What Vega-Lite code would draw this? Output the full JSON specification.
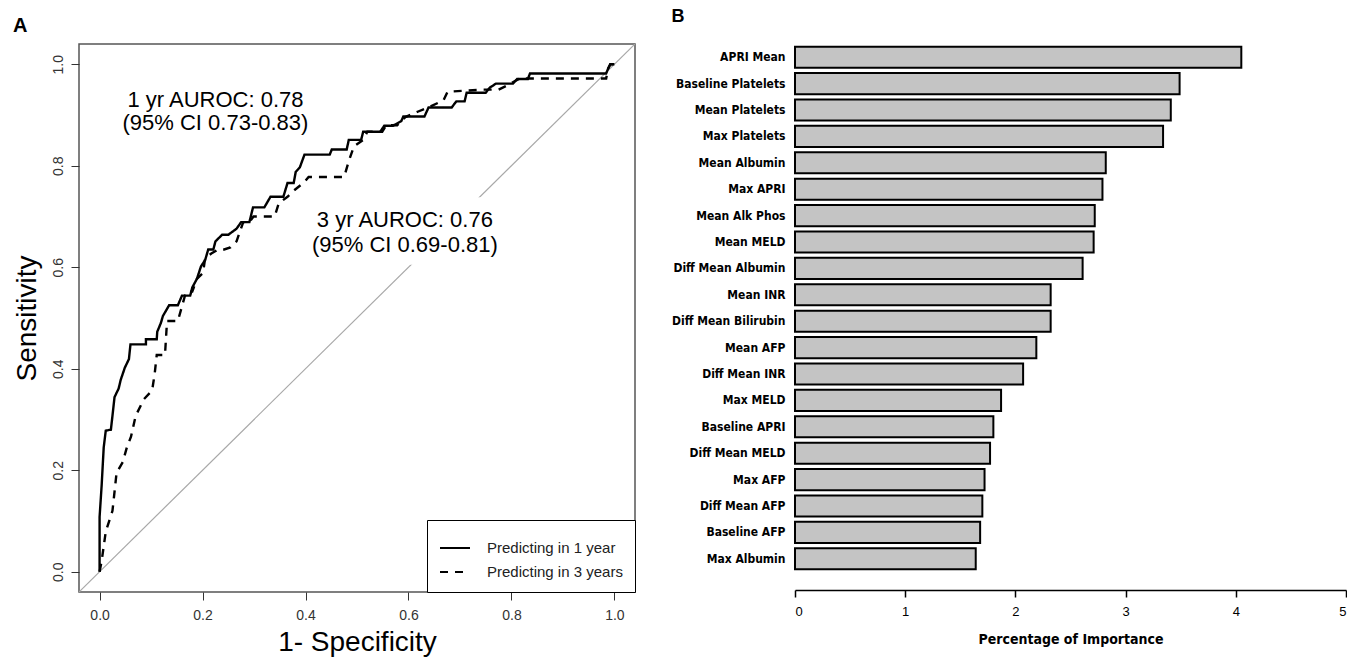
{
  "$schema": "https://vega.github.io/schema/vega-lite/v6.json",
  "background": "white",
  "padding": {"left": 12, "top": 8, "right": 0, "bottom": 0},
  "config": {"font": "Liberation Sans", "view": {"stroke": null}},
  "spacing": 34,
  "resolve": {"legend": {"strokeDash": "independent"}, "scale": {"x": "independent", "y": "independent"}},
  "datasets": {
    "roc1": [
      {"fpr":0,"sens":0},{"fpr":0,"sens":0.108},{"fpr":0.004,"sens":0.170},{"fpr":0.008,"sens":0.245},{"fpr":0.012,"sens":0.278},{"fpr":0.022,"sens":0.280},{"fpr":0.029,"sens":0.344},{"fpr":0.037,"sens":0.361},{"fpr":0.041,"sens":0.378},{"fpr":0.049,"sens":0.402},{"fpr":0.057,"sens":0.419},{"fpr":0.060,"sens":0.448},{"fpr":0.090,"sens":0.448},{"fpr":0.090,"sens":0.458},{"fpr":0.111,"sens":0.458},{"fpr":0.112,"sens":0.473},{"fpr":0.119,"sens":0.490},{"fpr":0.123,"sens":0.504},{"fpr":0.135,"sens":0.525},{"fpr":0.152,"sens":0.525},{"fpr":0.160,"sens":0.544},{"fpr":0.176,"sens":0.544},{"fpr":0.180,"sens":0.560},{"fpr":0.189,"sens":0.577},{"fpr":0.197,"sens":0.602},{"fpr":0.205,"sens":0.614},{"fpr":0.211,"sens":0.635},{"fpr":0.221,"sens":0.635},{"fpr":0.225,"sens":0.651},{"fpr":0.238,"sens":0.664},{"fpr":0.250,"sens":0.664},{"fpr":0.266,"sens":0.676},{"fpr":0.275,"sens":0.689},{"fpr":0.291,"sens":0.689},{"fpr":0.298,"sens":0.718},{"fpr":0.320,"sens":0.718},{"fpr":0.332,"sens":0.739},{"fpr":0.357,"sens":0.739},{"fpr":0.365,"sens":0.766},{"fpr":0.377,"sens":0.766},{"fpr":0.381,"sens":0.788},{"fpr":0.389,"sens":0.797},{"fpr":0.398,"sens":0.822},{"fpr":0.447,"sens":0.822},{"fpr":0.451,"sens":0.832},{"fpr":0.480,"sens":0.832},{"fpr":0.484,"sens":0.851},{"fpr":0.508,"sens":0.851},{"fpr":0.512,"sens":0.867},{"fpr":0.545,"sens":0.867},{"fpr":0.553,"sens":0.879},{"fpr":0.570,"sens":0.879},{"fpr":0.586,"sens":0.888},{"fpr":0.590,"sens":0.897},{"fpr":0.631,"sens":0.897},{"fpr":0.639,"sens":0.915},{"fpr":0.684,"sens":0.915},{"fpr":0.693,"sens":0.927},{"fpr":0.709,"sens":0.927},{"fpr":0.713,"sens":0.944},{"fpr":0.750,"sens":0.944},{"fpr":0.758,"sens":0.954},{"fpr":0.770,"sens":0.962},{"fpr":0.803,"sens":0.962},{"fpr":0.811,"sens":0.971},{"fpr":0.832,"sens":0.971},{"fpr":0.836,"sens":0.982},{"fpr":0.984,"sens":0.982},{"fpr":0.988,"sens":0.992},{"fpr":0.992,"sens":1.0},{"fpr":1.0,"sens":1.0}
    ],
    "roc3": [
      {"fpr":0,"sens":0},{"fpr":0.004,"sens":0.021},{"fpr":0.012,"sens":0.079},{"fpr":0.025,"sens":0.120},{"fpr":0.033,"sens":0.195},{"fpr":0.045,"sens":0.216},{"fpr":0.053,"sens":0.245},{"fpr":0.061,"sens":0.266},{"fpr":0.070,"sens":0.307},{"fpr":0.086,"sens":0.340},{"fpr":0.102,"sens":0.357},{"fpr":0.107,"sens":0.390},{"fpr":0.111,"sens":0.427},{"fpr":0.127,"sens":0.427},{"fpr":0.131,"sens":0.494},{"fpr":0.152,"sens":0.494},{"fpr":0.168,"sens":0.552},{"fpr":0.180,"sens":0.552},{"fpr":0.189,"sens":0.577},{"fpr":0.201,"sens":0.589},{"fpr":0.205,"sens":0.618},{"fpr":0.217,"sens":0.627},{"fpr":0.230,"sens":0.635},{"fpr":0.242,"sens":0.635},{"fpr":0.254,"sens":0.639},{"fpr":0.266,"sens":0.651},{"fpr":0.279,"sens":0.689},{"fpr":0.291,"sens":0.689},{"fpr":0.299,"sens":0.700},{"fpr":0.340,"sens":0.700},{"fpr":0.348,"sens":0.726},{"fpr":0.365,"sens":0.739},{"fpr":0.377,"sens":0.751},{"fpr":0.398,"sens":0.768},{"fpr":0.406,"sens":0.778},{"fpr":0.475,"sens":0.778},{"fpr":0.484,"sens":0.809},{"fpr":0.494,"sens":0.838},{"fpr":0.512,"sens":0.851},{"fpr":0.520,"sens":0.867},{"fpr":0.549,"sens":0.867},{"fpr":0.557,"sens":0.880},{"fpr":0.578,"sens":0.880},{"fpr":0.586,"sens":0.888},{"fpr":0.594,"sens":0.896},{"fpr":0.619,"sens":0.907},{"fpr":0.643,"sens":0.917},{"fpr":0.668,"sens":0.929},{"fpr":0.676,"sens":0.946},{"fpr":0.742,"sens":0.950},{"fpr":0.775,"sens":0.950},{"fpr":0.791,"sens":0.958},{"fpr":0.816,"sens":0.972},{"fpr":0.984,"sens":0.972},{"fpr":0.988,"sens":0.992},{"fpr":0.992,"sens":1.0},{"fpr":1.0,"sens":1.0}
    ],
    "diag": [{"fpr":-0.04,"sens":-0.04},{"fpr":1.04,"sens":1.04}],
    "notes": [
      {"fpr":0.225,"sens":0.929,"label":"1 yr AUROC: 0.78"},
      {"fpr":0.225,"sens":0.884,"label":"(95% CI 0.73-0.83)"},
      {"fpr":0.593,"sens":0.693,"label":"3 yr AUROC: 0.76"},
      {"fpr":0.593,"sens":0.643,"label":"(95% CI 0.69-0.81)"}
    ],
    "boxes": [{"x":0.372,"x2":0.815,"y":0.605,"y2":0.738}],
    "importance": [
      {"feature":"APRI Mean","importance":4.05},
      {"feature":"Baseline Platelets","importance":3.49},
      {"feature":"Mean Platelets","importance":3.41},
      {"feature":"Max Platelets","importance":3.34},
      {"feature":"Mean Albumin","importance":2.82},
      {"feature":"Max APRI","importance":2.79},
      {"feature":"Mean Alk Phos","importance":2.72},
      {"feature":"Mean MELD","importance":2.71},
      {"feature":"Diff Mean Albumin","importance":2.61},
      {"feature":"Mean INR","importance":2.32},
      {"feature":"Diff Mean Bilirubin","importance":2.32},
      {"feature":"Mean AFP","importance":2.19},
      {"feature":"Diff Mean INR","importance":2.07},
      {"feature":"Max MELD","importance":1.87},
      {"feature":"Baseline APRI","importance":1.80},
      {"feature":"Diff Mean MELD","importance":1.77},
      {"feature":"Max AFP","importance":1.72},
      {"feature":"Diff Mean AFP","importance":1.70},
      {"feature":"Baseline AFP","importance":1.68},
      {"feature":"Max Albumin","importance":1.64}
    ]
  },
  "hconcat": [
    {
      "title": {"text": "A", "anchor": "start", "frame": "bounds", "fontSize": 20, "fontWeight": "bold", "font": "Liberation Sans", "offset": 8},
      "width": 556,
      "height": 548,
      "view": {"stroke": "#555555", "strokeWidth": 1.5},
      "resolve": {"legend": {"strokeDash": "shared"}},
      "layer": [
        {
          "data": {"name": "diag"},
          "mark": {"type": "line", "color": "#a8a8a8", "strokeWidth": 1.2, "clip": true},
          "encoding": {
            "x": {"field": "fpr", "type": "quantitative", "scale": {"domain": [-0.04, 1.04], "nice": false, "zero": false},
              "axis": {"values": [0, 0.2, 0.4, 0.6, 0.8, 1], "format": ".1f", "domain": false, "grid": false, "tickSize": 8, "tickColor": "#333333", "labelFontSize": 14, "labelColor": "#333333", "labelPadding": 8, "title": "1- Specificity", "titleFontSize": 28, "titleFontWeight": "normal", "titleColor": "black", "titlePadding": 6}},
            "y": {"field": "sens", "type": "quantitative", "scale": {"domain": [-0.04, 1.04], "nice": false, "zero": false},
              "axis": {"values": [0, 0.2, 0.4, 0.6, 0.8, 1], "format": ".1f", "domain": false, "grid": false, "tickSize": 8, "tickColor": "#333333", "labelFontSize": 14, "labelColor": "#333333", "labelAngle": -90, "labelPadding": 6, "title": "Sensitivity", "titleFontSize": 28, "titleFontWeight": "normal", "titleColor": "black", "titlePadding": 10}}
          }
        },
        {
          "data": {"name": "roc1"},
          "mark": {"type": "line", "color": "black", "strokeWidth": 2.4},
          "encoding": {
            "x": {"field": "fpr", "type": "quantitative"},
            "y": {"field": "sens", "type": "quantitative"},
            "order": {"value": 0},
            "strokeDash": {"datum": "Predicting in 1 year", "type": "nominal",
              "scale": {"domain": ["Predicting in 1 year", "Predicting in 3 years"], "range": [[1, 0], [8, 7]]},
              "legend": {"title": null, "orient": "bottom-right", "offset": 0, "strokeColor": "black", "fillColor": "white", "padding": 12, "labelFontSize": 15, "labelColor": "#222222", "labelOffset": 16, "symbolSize": 900, "symbolStrokeWidth": 2, "symbolStrokeColor": "black", "rowPadding": -6, "symbolType": "stroke"}}
          }
        },
        {
          "data": {"name": "roc3"},
          "mark": {"type": "line", "color": "black", "strokeWidth": 2.4},
          "encoding": {
            "x": {"field": "fpr", "type": "quantitative"},
            "y": {"field": "sens", "type": "quantitative"},
            "order": {"value": 0},
            "strokeDash": {"datum": "Predicting in 3 years", "type": "nominal"}
          }
        },
        {
          "data": {"name": "boxes"},
          "mark": {"type": "rect", "fill": "white"},
          "encoding": {
            "x": {"field": "x", "type": "quantitative"},
            "x2": {"field": "x2"},
            "y": {"field": "y", "type": "quantitative"},
            "y2": {"field": "y2"}
          }
        },
        {
          "data": {"name": "notes"},
          "mark": {"type": "text", "fontSize": 22, "color": "black", "align": "center", "baseline": "middle"},
          "encoding": {
            "x": {"field": "fpr", "type": "quantitative"},
            "y": {"field": "sens", "type": "quantitative"},
            "text": {"field": "label"}
          }
        }
      ]
    },
    {
      "title": {"text": "B", "anchor": "start", "frame": "bounds", "fontSize": 18, "fontWeight": "bold", "font": "Liberation Sans", "offset": 18},
      "width": 551,
      "height": 528,
      "data": {"name": "importance"},
      "mark": {"type": "bar", "fill": "#c4c4c4", "stroke": "black", "strokeWidth": 2},
      "encoding": {
        "y": {"field": "feature", "type": "nominal", "sort": null,
          "scale": {"paddingInner": 0.2, "paddingOuter": 0.1},
          "axis": {"title": null, "ticks": false, "domain": false, "labelFont": "DejaVu Sans Condensed, Liberation Sans", "labelFontWeight": "bold", "labelFontSize": 12, "labelColor": "black", "labelPadding": 10}},
        "x": {"field": "importance", "type": "quantitative", "scale": {"domain": [0, 5], "nice": false},
          "axis": {"values": [0, 1, 2, 3, 4, 5], "grid": false, "offset": 18, "domainColor": "black", "domainWidth": 1.5, "tickColor": "black", "tickWidth": 1.5, "tickSize": 7, "labelFontSize": 13, "labelColor": "black", "labelPadding": 8, "title": "Percentage of Importance", "titleFont": "DejaVu Sans Condensed, Liberation Sans", "titleFontWeight": "bold", "titleFontSize": 14, "titlePadding": 14, "titleColor": "black"}}
      }
    }
  ]
}
